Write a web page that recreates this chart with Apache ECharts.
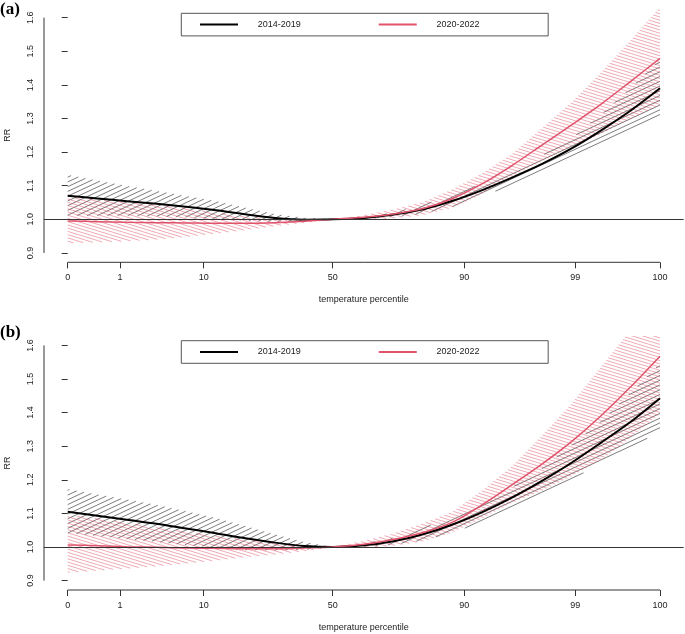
<!DOCTYPE html>
<html><head><meta charset="utf-8">
<script src="https://cdn.jsdelivr.net/npm/echarts@6/dist/echarts.min.js"></script>
<style>html,body{margin:0;padding:0;background:#fff}#c{width:685px;height:634px}</style>
</head><body><div id="c"></div>
<script>
// x positions are in axis units (temperature scale rescaled 0..100); labels are percentiles
const xPos = [0,5,10,15,20,25,30,35,40,44.74,50,55,60,65,70,75,80,85,90,95,100];
const xTickPos = [0, 8.83, 22.96, 44.74, 66.96, 85.7, 100];
const xTickLabels = ['0','1','10','50','90','99','100'];
const yTicks = [0.9,1.0,1.1,1.2,1.3,1.4,1.5,1.6];
const seriesNames = ['2014-2019','2020-2022'];
const panelLabels = ['(a)','(b)'];

// Panel (a)
const aBlack   = [1.070,1.062,1.054,1.046,1.037,1.027,1.015,1.004,0.999,1.000,1.004,1.014,1.030,1.055,1.087,1.124,1.164,1.210,1.264,1.323,1.390];
const aBlackUp = [1.132,1.115,1.099,1.084,1.069,1.054,1.034,1.015,1.004,1.000,1.006,1.020,1.043,1.072,1.106,1.145,1.189,1.240,1.311,1.390,1.475];
const aBlackLo = [1.011,1.011,1.011,1.009,1.006,1.001,0.996,0.993,0.994,1.000,1.002,1.008,1.017,1.038,1.068,1.103,1.140,1.181,1.219,1.259,1.310];
const aRed     = [0.995,0.993,0.991,0.990,0.989,0.988,0.988,0.990,0.994,1.000,1.006,1.016,1.032,1.062,1.106,1.160,1.220,1.280,1.342,1.410,1.479];
const aRedUp   = [1.066,1.058,1.050,1.043,1.032,1.019,1.008,1.000,0.998,1.000,1.012,1.029,1.051,1.089,1.137,1.194,1.270,1.347,1.436,1.532,1.631];
const aRedLo   = [0.929,0.932,0.935,0.940,0.948,0.958,0.968,0.980,0.990,1.000,1.000,1.003,1.013,1.035,1.076,1.127,1.172,1.216,1.254,1.298,1.341];

// Panel (b)
const bBlack   = [1.105,1.093,1.081,1.069,1.055,1.041,1.026,1.013,1.003,1.000,1.005,1.017,1.038,1.067,1.104,1.147,1.196,1.250,1.310,1.372,1.443];
const bBlackUp = [1.172,1.156,1.141,1.125,1.106,1.086,1.062,1.037,1.014,1.000,1.010,1.027,1.056,1.092,1.133,1.177,1.233,1.302,1.373,1.458,1.545];
const bBlackLo = [1.042,1.033,1.024,1.016,1.006,0.998,0.991,0.990,0.992,1.000,1.000,1.007,1.020,1.043,1.075,1.118,1.160,1.200,1.250,1.291,1.348];
const bRed     = [1.006,1.004,1.001,0.999,0.997,0.996,0.995,0.995,0.997,1.000,1.008,1.022,1.043,1.074,1.126,1.185,1.246,1.313,1.390,1.476,1.568];
const bRedUp   = [1.095,1.084,1.071,1.058,1.045,1.033,1.021,1.012,1.006,1.000,1.018,1.040,1.070,1.105,1.168,1.240,1.330,1.425,1.535,1.645,1.760];
const bRedLo   = [0.924,0.930,0.936,0.943,0.951,0.960,0.970,0.978,0.988,1.000,0.998,1.004,1.017,1.044,1.086,1.132,1.167,1.210,1.258,1.325,1.397];

const panels = [
  {black:aBlack, blackUp:aBlackUp, blackLo:aBlackLo, red:aRed, redUp:aRedUp, redLo:aRedLo},
  {black:bBlack, blackUp:bBlackUp, blackLo:bBlackLo, red:bRed, redUp:bRedUp, redLo:bRedLo}
];

const X_MIN = -4, X_MAX = 104, Y_MIN = 0.872, Y_MAX = 1.628;
const BLACK = '#000000', RED = '#DF536B', AXIS = '#333333', TXT = '#222222';
const FONT = '"Liberation Sans", Arial, sans-serif';
const gridTops = [8.3, 336];
const GRID_H = 254;

function pairs(a){ return xPos.map((x,i)=>[x,a[i]]); }

// Hatched band: each data item is one slab between consecutive x positions;
// a global family of parallel lines is clipped to each slab in pixel space.
function hatchSeries(gi, lo, up, color, angleDeg, spacing, width, opacity){
  const th = angleDeg*Math.PI/180;
  const d = [Math.cos(th), -Math.sin(th)];   // line direction (screen coords)
  const n = [-d[1], d[0]];                   // normal
  const data = xPos.slice(0,-1).map((x,i)=>[x, lo[i], up[i], xPos[i+1], lo[i+1], up[i+1]]);
  return {
    type:'custom', xAxisIndex:gi, yAxisIndex:gi, silent:true, clip:true, z:1,
    encode:{x:[0,3], y:[1,2,4,5]}, data:data,
    renderItem:(params, api)=>{
      const poly = [
        api.coord([api.value(0), api.value(1)]),
        api.coord([api.value(3), api.value(4)]),
        api.coord([api.value(3), api.value(5)]),
        api.coord([api.value(0), api.value(2)])
      ];
      const cs = poly.map(p=>n[0]*p[0]+n[1]*p[1]);
      const cmin = Math.min(...cs), cmax = Math.max(...cs);
      const children = [];
      for (let k = Math.ceil(cmin/spacing); k*spacing <= cmax; k++){
        const c = k*spacing;
        const pts = [];
        for (let e = 0; e < 4; e++){
          const p1 = poly[e], p2 = poly[(e+1)%4], c1 = cs[e], c2 = cs[(e+1)%4];
          if ((c1 <= c && c2 > c) || (c2 <= c && c1 > c)){
            const t = (c-c1)/(c2-c1);
            const q = [p1[0]+t*(p2[0]-p1[0]), p1[1]+t*(p2[1]-p1[1])];
            pts.push({s:d[0]*q[0]+d[1]*q[1], q:q});
          }
        }
        pts.sort((a,b)=>a.s-b.s);
        for (let j = 0; j+1 < pts.length; j += 2){
          children.push({type:'line', shape:{x1:pts[j].q[0], y1:pts[j].q[1], x2:pts[j+1].q[0], y2:pts[j+1].q[1]},
            style:{stroke:color, lineWidth:width, opacity:opacity}});
        }
      }
      return {type:'group', children:children};
    }
  };
}

const grid = [], xAxis = [], yAxis = [], series = [], legend = [], title = [];
panels.forEach((p, gi) => {
  grid.push({left:44, right:1.3, top:gridTops[gi], height:GRID_H, outerBoundsMode:'none', containLabel:false});
  xAxis.push({
    type:'value', gridIndex:gi, min:X_MIN, max:X_MAX,
    name:'temperature percentile', nameLocation:'middle', nameGap:33,
    nameTextStyle:{fontFamily:FONT, fontSize:9, color:TXT},
    axisLine:{show:false}, splitLine:{show:false},
    axisTick:{show:true, customValues:xTickPos, length:6, inside:false, lineStyle:{color:AXIS, width:1}},
    axisLabel:{customValues:xTickPos, margin:11, fontFamily:FONT, fontSize:9, color:TXT,
      formatter:(v)=>{ const i = xTickPos.findIndex(t=>Math.abs(t-v)<1e-6); return i>=0 ? xTickLabels[i] : ''; }}
  });
  yAxis.push({
    type:'value', gridIndex:gi, min:Y_MIN, max:Y_MAX,
    name:'RR', nameLocation:'middle', nameGap:32, nameRotate:90,
    nameTextStyle:{fontFamily:FONT, fontSize:9, color:TXT},
    axisLine:{show:false}, splitLine:{show:false},
    axisTick:{show:true, customValues:yTicks, length:6, lineStyle:{color:AXIS, width:1}},
    axisLabel:{customValues:yTicks, rotate:90, margin:9, fontFamily:FONT, fontSize:9, color:TXT,
      formatter:(v)=>v.toFixed(1)}
  });
  // hatched confidence bands
  series.push(hatchSeries(gi, p.blackLo, p.blackUp, '#333333', 25, 4.3, 0.75, 0.85));
  series.push(hatchSeries(gi, p.redLo, p.redUp, RED, -17, 3.1, 0.7, 0.7));
  // curves
  series.push({type:'line', name:seriesNames[0], xAxisIndex:gi, yAxisIndex:gi, data:pairs(p.black),
    symbol:'none', smooth:0.3, color:BLACK, lineStyle:{color:BLACK, width:2}, z:3, silent:true,
    markLine:{silent:true, symbol:'none', label:{show:false}, animation:false,
      lineStyle:{color:AXIS, width:1, type:'solid'}, data:[{yAxis:1}]}});
  series.push({type:'line', name:seriesNames[1], xAxisIndex:gi, yAxisIndex:gi, data:pairs(p.red),
    symbol:'none', smooth:0.3, color:RED, lineStyle:{color:RED, width:1.5}, z:4, silent:true});
  // R-style axis lines (span first to last tick)
  series.push({type:'line', name:'xaxisline'+gi, xAxisIndex:gi, yAxisIndex:gi, clip:false, symbol:'none',
    data:[[xTickPos[0], Y_MIN],[xTickPos[xTickPos.length-1], Y_MIN]], lineStyle:{color:AXIS, width:1}, silent:true, z:5});
  series.push({type:'line', name:'yaxisline'+gi, xAxisIndex:gi, yAxisIndex:gi, clip:false, symbol:'none',
    data:[[X_MIN, yTicks[0]],[X_MIN, yTicks[yTicks.length-1]]], lineStyle:{color:AXIS, width:1}, silent:true, z:5});
  legend.push({
    data:seriesNames, left:181.3, top:[13.3, 340.7][gi], orient:'horizontal',
    icon:'rect', itemWidth:38, itemHeight:2, itemGap:78, selectedMode:false,
    padding:[5.3, 68.7, 5.3, 18.7], borderColor:'#555', borderWidth:1, backgroundColor:'#fff',
    textStyle:{fontFamily:FONT, fontSize:9, color:TXT, lineHeight:12, padding:[0,0,0,14.7]}
  });
  title.push({text:panelLabels[gi], left:0, top:[1, 324][gi], padding:0,
    textStyle:{fontFamily:'"Liberation Serif", "Times New Roman", serif', fontWeight:'bold', fontSize:17, color:'#000'}});
});

const chart = echarts.init(document.getElementById('c'), null, {renderer:'canvas'});
chart.setOption({
  backgroundColor:'#fff', animation:false,
  title, legend, grid, xAxis, yAxis, series
});
</script>
</body></html>
